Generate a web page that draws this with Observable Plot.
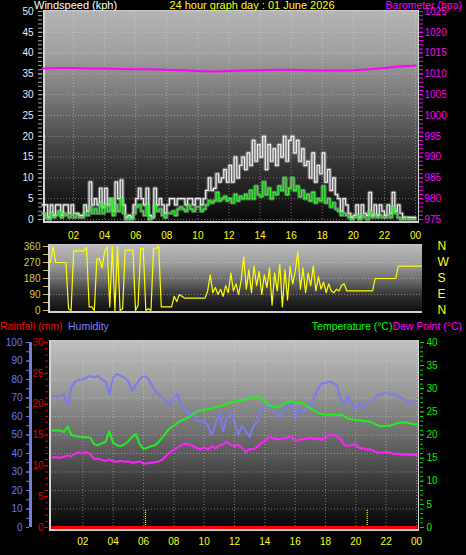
<!DOCTYPE html>
<html><head><meta charset="utf-8">
<script src="https://cdn.jsdelivr.net/npm/d3@7"></script>
<script src="https://cdn.jsdelivr.net/npm/@observablehq/plot@0.6"></script>
<style>
html,body{margin:0;padding:0;background:#000;}
#root{position:relative;width:466px;height:555px;background:#000;overflow:hidden;font-family:"Liberation Sans",Arial,sans-serif;}
.layer{position:absolute;left:0;width:466px;}
.layer svg{display:block;}
.bg{position:absolute;box-sizing:border-box;}
.t{position:absolute;font-size:11px;white-space:nowrap;line-height:11px;}
</style></head><body><div id="root">
<div class="bg" style="left:43px;top:10px;width:376px;height:213px;border-left:2px solid #d4d4d4;border-bottom:2px solid #cfcfcf;border-top:1px solid #c8c8c8;border-right:1px solid #d8d8d8;background:linear-gradient(#b4b4b4 0%,#a0a0a0 20%,#7a7a7a 40%,#4e4e4e 60%,#282828 80%,#0a0a0a 100%);"></div>
<div class="bg" style="left:48px;top:244px;width:374px;height:69px;border-left:2px solid #d4d4d4;border-bottom:2px solid #cfcfcf;border-top:1px solid #c8c8c8;background:linear-gradient(#bcbcbc 0%,#9a9a9a 30%,#666 55%,#2a2a2a 80%,#111 100%);"></div>
<div class="bg" style="left:49px;top:340px;width:370px;height:191px;border-left:2px solid #d4d4d4;border-bottom:2px solid #cfcfcf;border-top:1px solid #c8c8c8;border-right:1px solid #d8d8d8;background:linear-gradient(#c0c0c0 0%,#939393 30%,#5a5a5a 60%,#2c2c2c 80%,#050505 100%);"></div>
<div class="t" style="left:34px;top:0px;color:#fff;">Windspeed (kph)</div>
<div class="t" style="left:252px;top:0px;color:#ffff00;transform:translateX(-50%);">24 hour graph day : 01 June 2026</div>
<div class="t" style="right:4px;top:0px;color:#ff00ff;font-size:10.5px;line-height:10px;">Barometer (hpa)</div>
<div class="t" style="left:0px;top:321px;color:#ff0000;font-size:10.5px;">Rainfall (mm)</div>
<div class="t" style="left:68px;top:321px;color:#8080ff;font-size:10.5px;">Humidity</div>
<div class="t" style="right:4px;top:321px;font-size:10.5px;"><span style="color:#00ff00;">Temperature (°C)</span><span style="color:#ff00ff;">Dew Point (°C)</span></div>
</div>
<script>
// ---- tick values & labels ----
const hourTicks = [2,4,6,8,10,12,14,16,18,20,22,24];
const hourLabels = ["02","04","06","08","10","12","14","16","18","20","22","00"];
const windTicks = [0,5,10,15,20,25,30,35,40,45,50];
const baroTicks = [975,980,985,990,995,1000,1005,1010,1015,1020,1025];
const dirTicks = [0,90,180,270,360];
const compassLabels = ["N","E","S","W","N"];
const humTicks = [0,10,20,30,40,50,60,70,80,90,100];
const rainTicks = [0,5,10,15,20,25,30];
const tempTicks = [0,5,10,15,20,25,30,35,40];

// ---- series (10-minute samples) ----
const gust = [
 3.5,3.5,0.5,3.5,1,3.5, 3.5,1,3.5,3.5,1.5,3.5, 1.5,1.5,1,1,3.5,2,
 9,3.5,5,3.5,7.5,3, 7.5,3.5,5,2,9,5, 9.5,3.5,0.5,1,0.5,3.5,
 5,7.5,5,3.5,7.5,1, 0.5,7.5,3.5,5,3.5,1.5, 3.5,5,5,3.5,5,5,
 5,3.5,5,5,3.5,5, 5,3.5,5,7,10,7, 7.5,11,9,10,12,9,
 13,9,15,10,13,15, 12,16,13,19,14,18, 15,20,12,18,14,17,
 13,18,15,20,14,19, 20,16,19,14,17,13, 14,10,16,9,13,11,
 16,9,12,7,10,6, 5,2,5,3.5,1.5,0.5, 1,3.5,0.5,3.5,1.5,1,
 6.5,1,3.5,1,3.5,2, 1,3.5,1.5,6.5,2,3.5, 1.5,0.5,0.5,0.5,0.5,0.5, 0.5];
const avgWind = [
 1.5,0.5,0,1.5,0.5,1, 2,0.5,1.5,1,0.5,1, 0.5,1,0.5,0.5,1.5,1,
 3,1.5,2.5,1.5,4,1.5, 3.5,2,5,1,3.5,2, 5,1.5,0,0.5,0,1.5,
 3,3.5,2,1,3.5,0, 0.5,3.5,2,2.5,1,0.5, 1.5,1.5,2,1,2.5,3,
 2.5,2,3.5,2.5,2,3, 3,2,2.5,3.5,4.5,4, 4.5,6.5,4.5,5,5.5,4.5,
 5,4,6,4.5,5.5,5, 6,5,7,5,8,6, 5.5,9,6,7.5,5,6.5,
 6,8,7,10,6,7.5, 10,7,8,5.5,7,5, 6,4.5,6.5,4,5,4.5,
 8,4,5,3,4,2.5, 2,1,1.5,1,0.5,0, 0.5,1,0,1,0.5,0,
 2,0.5,1,0.5,1,0.5, 0.5,1,0.5,3,1.5,0.5, 0,0,0.5,0,0,0, 0];
const windDir = [
 270,360,270,270,270,270, 270,10,0,335,335,335, 335,335,355,20,20,0,
 290,290,240,330,360,20, 360,0,360,0,10,340, 340,340,340,0,30,350,
 350,0,10,0,350,350, 360,20,20,20,20,20, 80,50,90,80,70,70,
 70,70,70,70,70,70, 70,110,200,100,130,90, 120,80,140,100,210,110,
 150,90,170,300,120,230, 100,250,140,220,90,200, 130,240,30,210,110,260,
 20,230,60,250,150,220, 330,120,240,100,210,140, 250,110,190,120,160,100,
 150,110,100,120,110,140, 150,110,110,110,110,110, 110,110,110,110,110,110,
 180,180,180,180,180,180, 180,180,180,250,250,250, 250,250,250,250,250,250, 250];
// ---- hourly ----
const barometer = [1011.3,1011.4,1011.4,1011.3,1011.3,1011.2,1011.1,1011.1,1011.0,1010.9,1010.7,1010.6,1010.7,1010.8,1010.9,1011.0,1011.0,1010.9,1010.8,1010.8,1010.9,1011.1,1011.4,1011.8,1012.0];
const rainfall = [0,0,0,0,0,0,0,0,0,0,0,0,0,0,0,0,0,0,0,0,0,0,0,0,0];
// ---- 15-minute samples ----
const humidity = [
 71,71,71,72, 66,76,79,80, 80,81,82,81, 82,80,79,72, 81,83,82,81, 79,74,77,80,
 82,81,78,74, 72,70,68,66, 70,72,66,64, 61,62,58,57, 58,55,50,56, 62,52,60,62,
 57,50,55,52, 49,55,57,64, 65,66,63,62, 60,63,66,68, 59,65,62,64, 66,70,75,78,
 78,79,78,77, 69,67,71,66, 64,68,65,67, 68,70,72,72, 73,72,72,71, 70,69,68,68, 68];
const temperature = [
 21.0,21.0,21.0,20.6, 21.8,20.0,19.8,19.6, 19.5,19.5,19.4,18.0, 17.8,18.2,18.5,20.8,
 18.3,17.8,17.6,18.0, 18.6,19.6,20.2,18.0, 17.0,17.2,17.6,17.8, 18.5,19.5,20.6,21.5,
 22.0,22.6,23.2,23.4, 23.8,24.5,25.0,25.3, 25.4,25.6,25.8,26.0, 26.3,26.5,26.8,27.0,
 27.2,27.4,27.5,27.7, 27.9,28.1,28.3,27.8, 27.3,26.5,26.2,26.0, 26.2,26.8,27.1,27.3,
 27.0,27.0,26.8,26.3, 25.8,25.3,24.8,24.5, 24.4,24.4,24.5,24.3, 24.4,24.0,23.5,23.4,
 23.2,23.2,23.0,23.0, 22.8,22.4,22.0,21.9, 22.0,22.0,22.3,22.6, 22.7,22.7,22.6,22.4, 22.3];
const dewPoint = [
 15.2,15.2,15.1,15.3, 15.6,15.4,16.0,16.2, 16.0,16.3,15.8,14.8, 14.9,14.6,14.4,14.7,
 14.3,14.2,14.4,14.2, 14.3,14.0,14.1,14.3, 13.8,13.9,14.0,14.1, 14.3,14.7,15.5,16.3,
 16.8,17.3,17.8,18.1, 18.0,17.6,17.2,16.9, 17.4,16.8,17.6,17.1, 17.8,18.0,18.5,17.9,
 17.6,17.9,17.2,16.3, 17.0,16.9,17.4,18.3, 18.6,19.6,19.3,19.2, 19.0,19.3,19.5,19.7,
 18.6,19.0,19.1,19.2, 19.5,19.1,19.3,18.9, 19.6,20.0,20.0,19.8, 19.2,17.8,17.7,17.9,
 18.0,17.1,17.2,16.8, 16.9,16.4,16.2,16.2, 16.3,16.2,15.9,16.0, 15.8,15.8,15.7,15.8, 15.7];
const sunMarks = [6.13, 20.75];

// ---- helpers ----
const series = (vals, step) => vals.map((v, i) => ({h: i * step, v}));
const gustData = series(gust, 1/6), avgData = series(avgWind, 1/6), dirData = series(windDir, 1/6);
const baroData = series(barometer, 1), rainData = series(rainfall, 1);
const humData = series(humidity, 0.25), tempData = series(temperature, 0.25), dewData = series(dewPoint, 0.25);
const hourFmt = d => hourLabels[hourTicks.indexOf(d)];
const plain = d => String(d);
const root = document.getElementById("root");
const FONT = "'Liberation Sans', Arial, sans-serif";
function layer(top, height, opts) {
  const svg = Plot.plot({width: 466, height,
    style: {background: "transparent", fontFamily: FONT, fontSize: "10px", overflow: "visible"}, ...opts});
  const div = document.createElement("div");
  div.className = "layer"; div.style.top = top + "px"; div.style.height = height + "px";
  div.appendChild(svg); root.appendChild(div);
}
const grid = {stroke: "#e0e0e0", strokeOpacity: 0.45, strokeDasharray: "1,2"};

// ---- top: wind speed ----
const topM = {marginLeft: 42, marginRight: 51, marginTop: 11, marginBottom: 21};
layer(0, 240, {...topM,
  x: {domain: [0, 24], axis: null}, y: {domain: [0, 50], axis: null},
  marks: [
    Plot.gridY(windTicks, grid),
    Plot.gridX(hourTicks, grid),
    Plot.axisY(d3.range(0, 51, 1), {tickSize: 4, tickFormat: () => "", stroke: "#a0a0a0", label: null}),
    Plot.axisY(windTicks, {tickSize: 4, tickPadding: 5, tickFormat: plain, fill: "#e0ecff", stroke: "#a0a0a0", label: null}),
    Plot.axisX(hourTicks, {tickSize: 0, tickPadding: 12, tickFormat: hourFmt, fill: "#ffff00", label: null}),
    Plot.line(gustData, {x: "h", y: "v", curve: "step-after", stroke: "#c8c8c8", strokeOpacity: 0.4, strokeWidth: 3.5}),
    Plot.line(gustData, {x: "h", y: "v", curve: "step-after", stroke: "#ffffff", strokeOpacity: 0.9, strokeWidth: 1.2}),
    Plot.line(avgData, {x: "h", y: "v", curve: "step-after", stroke: "#b0ffb0", strokeOpacity: 0.4, strokeWidth: 3.5}),
    Plot.line(avgData, {x: "h", y: "v", curve: "step-after", stroke: "#33ee33", strokeWidth: 1.2})
  ]});
// ---- top: barometer overlay ----
layer(0, 240, {...topM,
  x: {domain: [0, 24], axis: null}, y: {domain: [975, 1025], axis: null},
  marks: [
    Plot.axisY(d3.range(975, 1026, 1), {anchor: "right", dx: 3, tickSize: 4, tickFormat: () => "", stroke: "#ff00ff", label: null}),
    Plot.axisY(baroTicks, {anchor: "right", dx: 3, tickSize: 4, tickPadding: 2, tickFormat: plain, fill: "#ff00ff", stroke: "#ff00ff", label: null}),
    Plot.line(baroData, {x: "h", y: "v", stroke: "#ff00ff", strokeWidth: 2})
  ]});

// ---- middle: wind direction ----
layer(240, 75, {marginLeft: 50, marginRight: 45, marginTop: 6, marginBottom: 5,
  x: {domain: [0, 24], axis: null}, y: {domain: [0, 360], axis: null},
  marks: [
    Plot.gridY([90, 180, 270], grid),
    Plot.axisY(d3.range(0, 361, 45), {dx: -2, tickSize: 5, tickFormat: () => "", stroke: "#c8c820", label: null}),
    Plot.axisY(dirTicks, {dx: -2, tickSize: 5, tickPadding: 3, tickFormat: plain, fill: "#d0d040", stroke: "#c8c820", label: null}),
    Plot.axisY(dirTicks, {anchor: "right", tickSize: 0, tickPadding: 16, fontSize: 12,
      tickFormat: d => compassLabels[dirTicks.indexOf(d)], fill: "#ffff00", label: null}),
    Plot.line(dirData, {x: "h", y: "v", stroke: "#ffff00", strokeWidth: 1.2})
  ]});

// ---- bottom panel ----
const botM = {marginLeft: 52, marginRight: 50, marginTop: 22, marginBottom: 28};
// humidity
layer(320, 235, {...botM,
  x: {domain: [0, 24], axis: null}, y: {domain: [0, 100], axis: null},
  marks: [
    Plot.gridY(humTicks.slice(1, -1), grid),
    Plot.ruleX([0], {dx: -22, y1: 0, y2: 100, stroke: "#7080e0", strokeWidth: 3}),
    Plot.axisY(d3.range(0, 101, 5), {dx: -23, tickSize: 3, tickFormat: () => "", stroke: "#6a7ae8", label: null}),
    Plot.axisY(humTicks, {dx: -23, tickSize: 3, tickPadding: 4, tickFormat: plain, fill: "#6677ee", stroke: "#6a7ae8", label: null}),
    Plot.line(humData, {x: "h", y: "v", stroke: "#7b7bf0", strokeWidth: 2})
  ]});
// temperature & dew point
layer(320, 235, {...botM,
  x: {domain: [0, 24], axis: null}, y: {domain: [0, 40], axis: null},
  marks: [
    Plot.gridX(hourTicks, grid),
    Plot.axisY(d3.range(0, 41, 1), {anchor: "right", dx: 3, tickSize: 3, tickFormat: () => "", stroke: "#00dd00", label: null}),
    Plot.axisY(tempTicks, {anchor: "right", dx: 3, tickSize: 4, tickPadding: 3, tickFormat: plain, fill: "#00ee00", stroke: "#00dd00", label: null}),
    Plot.axisX(hourTicks, {tickSize: 0, tickPadding: 10, tickFormat: hourFmt, fill: "#ffff00", label: null}),
    Plot.ruleX(sunMarks, {y1: 0, y2: 3.8, stroke: "#ffff00", strokeWidth: 1.2, strokeDasharray: "1,1"}),
    Plot.line(tempData, {x: "h", y: "v", stroke: "#22ee22", strokeWidth: 2}),
    Plot.line(dewData, {x: "h", y: "v", stroke: "#ff22ff", strokeWidth: 2})
  ]});
// rainfall
layer(320, 235, {...botM,
  x: {domain: [0, 24], axis: null}, y: {domain: [0, 30], axis: null},
  marks: [
    Plot.axisY(d3.range(0, 31, 1), {dx: -4, tickSize: 3, tickFormat: () => "", stroke: "#dd0000", label: null}),
    Plot.axisY(rainTicks, {dx: -4, tickSize: 4, tickPadding: 1, tickFormat: plain, fill: "#e00000", stroke: "#dd0000", label: null}),
    Plot.line(rainData, {x: "h", y: "v", stroke: "#ff0000", strokeWidth: 3})
  ]});
</script></body></html>
